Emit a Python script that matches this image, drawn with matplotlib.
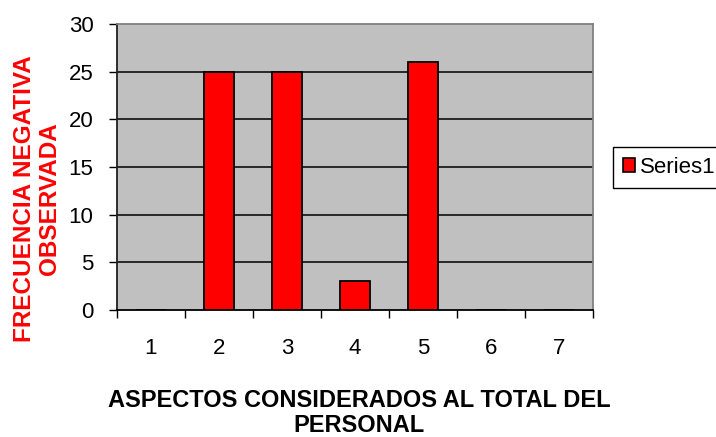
import matplotlib
matplotlib.use("Agg")
import matplotlib.pyplot as plt
from matplotlib.patches import Patch

categories = ["1", "2", "3", "4", "5", "6", "7"]
values = [0, 25, 25, 3, 26, 0, 0]
series_name = "Series1"
y_ticks = [0, 5, 10, 15, 20, 25, 30]

plt.rcParams['font.family'] = ['Liberation Sans', 'DejaVu Sans']

fig = plt.figure(figsize=(7.16, 4.37), dpi=100)
ax = fig.add_axes([117/716, 1-310/437, (593-117)/716, (310-24)/437])
ax.set_facecolor('#C0C0C0')

x = list(range(1, len(categories)+1))
ax.bar(x, values, width=0.43, color='#FF0000', edgecolor='black', linewidth=1.3, zorder=3)

ax.set_xlim(0.5, len(categories)+0.5)
ax.set_ylim(0, 30)
ax.set_yticks(y_ticks)
ax.set_yticklabels([str(v) for v in y_ticks], fontsize=16)
for v in y_ticks[1:-1]:
    ax.axhline(v, color='black', linewidth=1.1, zorder=1)

ax.set_xticks([i + 0.5 for i in range(0, len(categories)+1)])
ax.set_xticklabels([])
ax.set_xticks(x, minor=True)
ax.set_xticklabels(categories, minor=True, fontsize=16)
ax.tick_params(axis='x', which='minor', length=0, pad=20)
ax.tick_params(axis='x', which='major', length=6, width=1, direction='out', color='black')
ax.tick_params(axis='y', length=6, width=1, direction='out', color='black', pad=11)

ax.spines['left'].set_color('#202020')
ax.spines['bottom'].set_color('black')
ax.spines['top'].set_color('#808080')
ax.spines['right'].set_color('#808080')
for s in ax.spines.values():
    s.set_linewidth(1.3)

fig.text(359/716, 1-413/437, "ASPECTOS CONSIDERADOS AL TOTAL DEL\nPERSONAL", fontsize=17,
         fontweight='bold', ha='center', va='center', multialignment='center', linespacing=1.1)
fig.text(37/716, 1-199/437, "FRECUENCIA NEGATIVA\nOBSERVADA", fontsize=17.5, fontweight='bold',
         color='#FF0000', rotation=90, ha='center', va='center', multialignment='center',
         linespacing=1.1)

handle = Patch(facecolor='#FF0000', edgecolor='black', linewidth=1.2, label=series_name)
leg = fig.legend(handles=[handle], loc='upper left', bbox_to_anchor=(613/716, 1-147/437),
                 fontsize=16, frameon=True, fancybox=False, framealpha=1, edgecolor='black',
                 handlelength=0.55, handleheight=0.55, handletextpad=0.2, borderpad=0.45,
                 borderaxespad=0)
leg.get_frame().set_linewidth(1.0)

fig.savefig("out.png", dpi=100)
